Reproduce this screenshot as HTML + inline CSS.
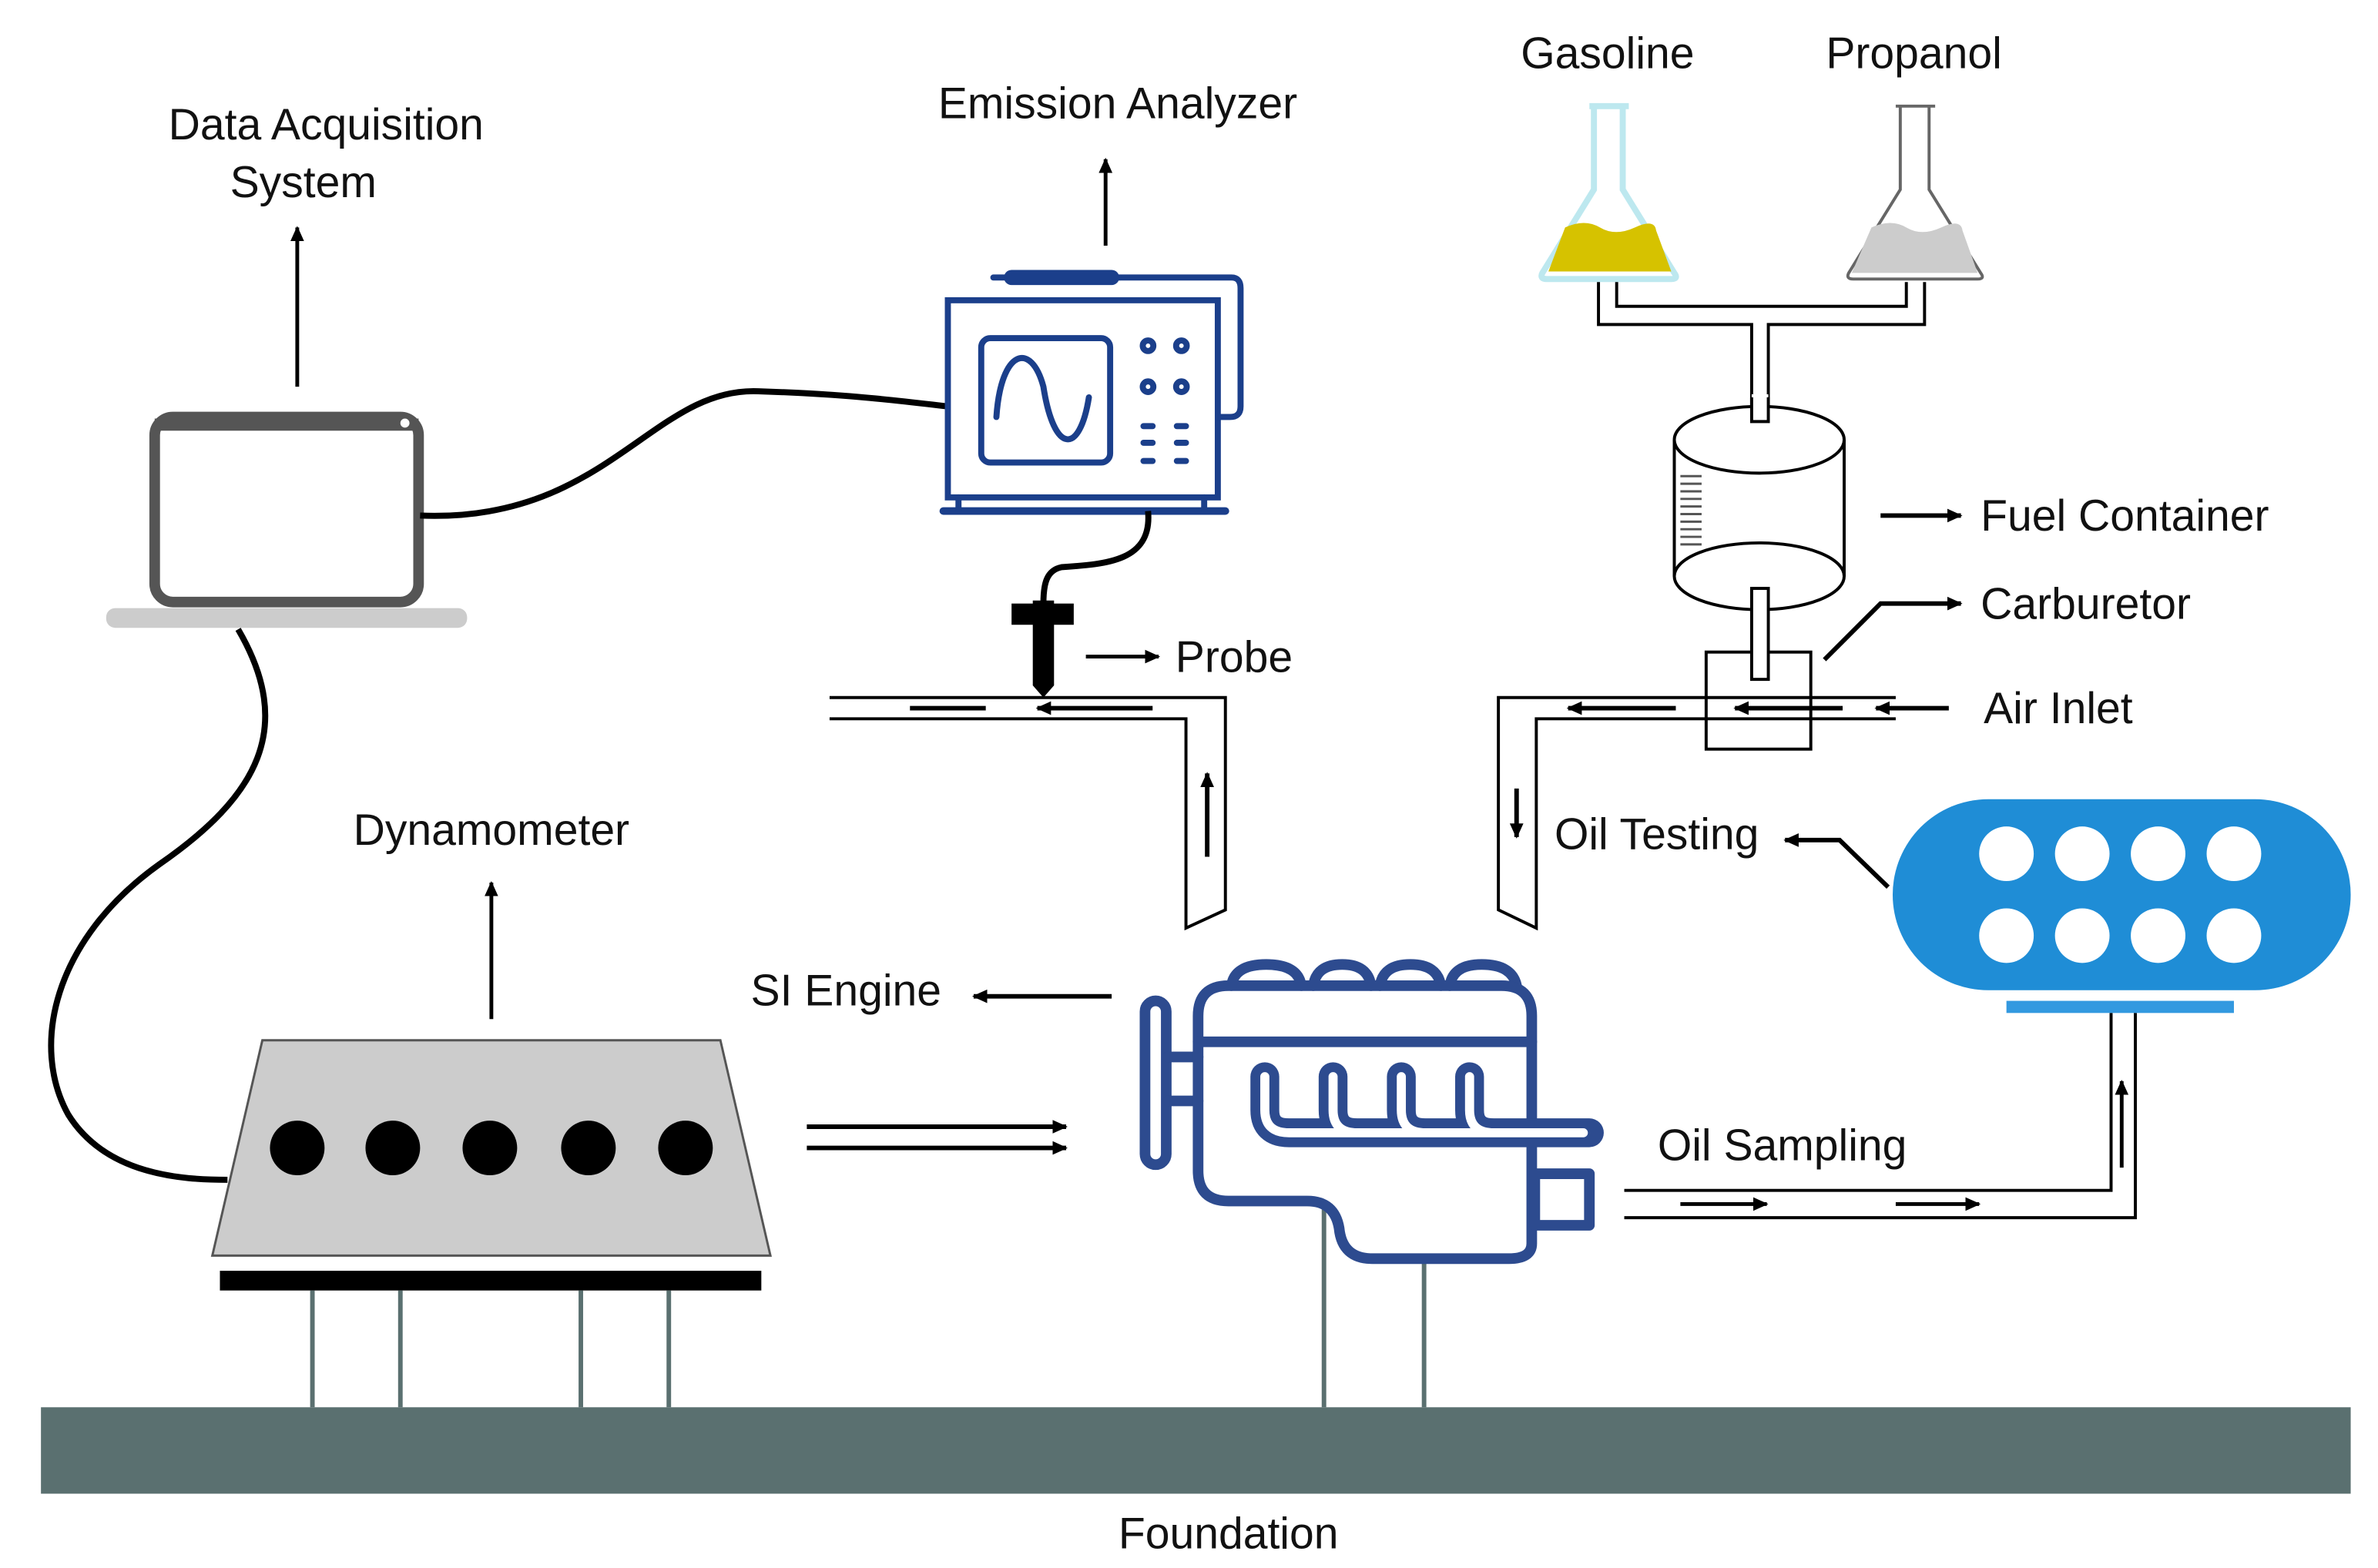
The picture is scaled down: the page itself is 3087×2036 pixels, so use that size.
<!DOCTYPE html>
<html><head><meta charset="utf-8"><style>
html,body{margin:0;padding:0;background:#fff;}
svg{display:block;}
text{font-family:"Liberation Sans",sans-serif;font-size:29px;fill:#111;}
</style></head><body>
<svg width="3087" height="2036" viewBox="0 0 1568 1034" preserveAspectRatio="none" xmlns="http://www.w3.org/2000/svg">
<defs>
<marker id="ah" markerWidth="12" markerHeight="12" refX="9" refY="6" orient="auto" markerUnits="userSpaceOnUse"><path d="M0,1.5 L10,6 L0,10.5 Z" fill="#000"/></marker>
</defs>
<rect width="1568" height="1034" fill="#fff"/>
<!-- Foundation -->
<rect x="27" y="928" width="1523" height="57" fill="#5a7070"/>
<text x="810" y="1021" text-anchor="middle">Foundation</text>

<!-- Laptop -->
<rect x="102" y="275" width="174" height="122" rx="12" fill="#fff" stroke="#555" stroke-width="7"/>
<line x1="102" y1="280" x2="276" y2="280" stroke="#555" stroke-width="8"/>
<circle cx="267" cy="279" r="3" fill="#fff"/>
<rect x="70" y="401" width="238" height="13" rx="6" fill="#ccc"/>
<line x1="196" y1="255" x2="196" y2="150" stroke="#000" stroke-width="2.5" marker-end="url(#ah)"/>
<text x="215" y="92" text-anchor="middle">Data Acquisition</text>
<text x="200" y="130" text-anchor="middle">System</text>

<!-- cables -->
<path d="M277,340 C400,345 430,255 500,258 C560,260 590,264 625,268" fill="none" stroke="#000" stroke-width="4"/>
<path d="M157,415 C195,480 170,525 105,570 C35,620 20,690 45,735 C70,775 120,778 150,778" fill="none" stroke="#000" stroke-width="4"/>

<!-- Emission analyzer -->
<g stroke="#1b3f8b" fill="none" stroke-width="4" stroke-linecap="round">
<rect x="625" y="198" width="178" height="130"/>
<rect x="647" y="223" width="85" height="82" rx="6"/>
<path d="M657,275 C660,230 680,225 688,255 C695,300 712,300 718,262"/>
<circle cx="757" cy="228" r="3.5"/><circle cx="779" cy="228" r="3.5"/>
<circle cx="757" cy="255" r="3.5"/><circle cx="779" cy="255" r="3.5"/>
<line x1="754" y1="281" x2="760" y2="281"/><line x1="776" y1="281" x2="782" y2="281"/>
<line x1="754" y1="292" x2="760" y2="292"/><line x1="776" y1="292" x2="782" y2="292"/>
<line x1="754" y1="304" x2="760" y2="304"/><line x1="776" y1="304" x2="782" y2="304"/>
<path d="M738,183 H812 Q818,183 818,190 V268 Q818,275 811,275 H803"/>
<line x1="655" y1="183" x2="738" y2="183"/>
<line x1="622" y1="337" x2="808" y2="337" stroke-width="5"/>
<line x1="632" y1="328" x2="632" y2="337"/><line x1="794" y1="328" x2="794" y2="337"/>
</g>
<line x1="667" y1="183" x2="733" y2="183" stroke="#1b3f8b" stroke-width="10" stroke-linecap="round"/>
<line x1="729" y1="162" x2="729" y2="105" stroke="#000" stroke-width="2.5" marker-end="url(#ah)"/>
<text x="737" y="78" text-anchor="middle">Emission Analyzer</text>

<!-- probe -->
<path d="M757,337 C760,370 730,372 700,374 C690,376 688,385 688,398" fill="none" stroke="#000" stroke-width="4"/>
<rect x="667" y="398" width="41" height="14" fill="#000"/>
<path d="M681,396 H695 V452 L688,460 L681,452 Z" fill="#000"/>
<line x1="716" y1="433" x2="764" y2="433" stroke="#000" stroke-width="2.5" marker-end="url(#ah)"/>
<text x="775" y="443">Probe</text>

<!-- exhaust pipe -->
<path d="M547,460 H808 V600 L782,612 V474 H547" fill="none" stroke="#000" stroke-width="2"/>
<line x1="600" y1="467" x2="650" y2="467" stroke="#000" stroke-width="3"/>
<line x1="760" y1="467" x2="684" y2="467" stroke="#000" stroke-width="3" marker-end="url(#ah)"/>
<line x1="796" y1="565" x2="796" y2="510" stroke="#000" stroke-width="3" marker-end="url(#ah)"/>

<!-- flasks -->
<text x="1060" y="45" text-anchor="middle">Gasoline</text>
<text x="1262" y="45" text-anchor="middle">Propanol</text>
<path d="M1048,70 H1074 M1051,71 V125 L1017,180 Q1015,184 1020,184 H1102 Q1107,184 1104,180 L1070,125 V71" fill="#fff" stroke="#bde8ef" stroke-width="4"/>
<path d="M1032,150 Q1045,144 1055,150 T1078,150 T1092,152 L1102,179 H1021 Z" fill="#d6c200"/>
<path d="M1250,70 H1276 M1253,71 V125 L1219,180 Q1217,184 1222,184 H1304 Q1309,184 1306,180 L1272,125 V71" fill="#fff" stroke="#666" stroke-width="2"/>
<path d="M1234,150 Q1247,144 1257,150 T1280,150 T1294,152 L1304,180 H1221 Z" fill="#ccc"/>

<!-- fuel tubes -->
<g stroke="#000" stroke-width="2" fill="none">
<path d="M1054,186 V214 H1155 V268"/>
<path d="M1166,268 V214 H1269 V186"/>
<path d="M1066,186 V202 H1257 V186"/>
<ellipse cx="1160" cy="290" rx="56" ry="22" fill="#fff"/>
<path d="M1104,290 V380 M1216,290 V380"/>
<ellipse cx="1160" cy="380" rx="56" ry="22"/>
<rect x="1155" y="260" width="11" height="18" fill="#fff" stroke="none"/>
<path d="M1155,262 V278 H1166 V262"/>
<rect x="1125" y="430" width="69" height="64" fill="none"/>
<rect x="1155" y="388" width="11" height="60" fill="#fff"/>
</g>
<g stroke="#555" stroke-width="1.5">
<line x1="1108" y1="314" x2="1122" y2="314"/><line x1="1108" y1="319" x2="1122" y2="319"/>
<line x1="1108" y1="324" x2="1122" y2="324"/><line x1="1108" y1="329" x2="1122" y2="329"/>
<line x1="1108" y1="334" x2="1122" y2="334"/><line x1="1108" y1="339" x2="1122" y2="339"/>
<line x1="1108" y1="344" x2="1122" y2="344"/><line x1="1108" y1="349" x2="1122" y2="349"/>
<line x1="1108" y1="354" x2="1122" y2="354"/><line x1="1108" y1="359" x2="1122" y2="359"/>
</g>
<line x1="1240" y1="340" x2="1293" y2="340" stroke="#000" stroke-width="3" marker-end="url(#ah)"/>
<text x="1306" y="350">Fuel Container</text>
<path d="M1203,435 L1240,398 H1293" fill="none" stroke="#000" stroke-width="3" marker-end="url(#ah)"/>
<text x="1306" y="408">Carburetor</text>

<!-- intake pipe -->
<path d="M1250,460 H988 V600 L1013,612 V474 H1250" fill="none" stroke="#000" stroke-width="2"/>
<line x1="1105" y1="467" x2="1034" y2="467" stroke="#000" stroke-width="3" marker-end="url(#ah)"/>
<line x1="1215" y1="467" x2="1144" y2="467" stroke="#000" stroke-width="3" marker-end="url(#ah)"/>
<line x1="1285" y1="467" x2="1237" y2="467" stroke="#000" stroke-width="3" marker-end="url(#ah)"/>
<text x="1308" y="477">Air Inlet</text>
<line x1="1000" y1="520" x2="1000" y2="552" stroke="#000" stroke-width="3" marker-end="url(#ah)"/>

<!-- oil testing -->
<rect x="1248" y="527" width="302" height="126" rx="63" fill="#1f8dd6"/>
<g fill="#fff">
<circle cx="1323" cy="563" r="18"/><circle cx="1373" cy="563" r="18"/><circle cx="1423" cy="563" r="18"/><circle cx="1473" cy="563" r="18"/>
<circle cx="1323" cy="617" r="18"/><circle cx="1373" cy="617" r="18"/><circle cx="1423" cy="617" r="18"/><circle cx="1473" cy="617" r="18"/>
</g>
<rect x="1323" y="660" width="150" height="8" fill="#3399e0"/>
<path d="M1245,585 L1213,554 H1177" fill="none" stroke="#000" stroke-width="3" marker-end="url(#ah)"/>
<text x="1025" y="560">Oil Testing</text>

<!-- oil sampling -->
<path d="M1071,785 H1392 V668 M1408,668 V803 H1071" fill="none" stroke="#000" stroke-width="2"/>
<line x1="1108" y1="794" x2="1165" y2="794" stroke="#000" stroke-width="2.5" marker-end="url(#ah)"/>
<line x1="1250" y1="794" x2="1305" y2="794" stroke="#000" stroke-width="2.5" marker-end="url(#ah)"/>
<line x1="1399" y1="770" x2="1399" y2="713" stroke="#000" stroke-width="2.5" marker-end="url(#ah)"/>
<text x="1093" y="765">Oil Sampling</text>

<!-- engine legs -->
<line x1="873" y1="795" x2="873" y2="928" stroke="#5a7070" stroke-width="3"/>
<line x1="939" y1="828" x2="939" y2="928" stroke="#5a7070" stroke-width="3"/>

<!-- engine -->
<g stroke="#2d4b8f" stroke-width="7" fill="none" stroke-linejoin="round" stroke-linecap="round">
<rect x="755" y="660" width="14" height="108" rx="7"/>
<line x1="770" y1="697" x2="790" y2="697"/><line x1="770" y1="726" x2="790" y2="726"/>
<path d="M812,650 Q814,636 835,636 Q856,636 858,650 M866,650 Q868,636 885,636 Q902,636 904,650 M910,650 Q912,636 930,636 Q948,636 950,650 M956,650 Q958,636 977,636 Q997,636 1000,650"/>
<path d="M810,650 H990 Q1010,650 1010,670 V820 Q1010,830 995,830 H905 Q885,830 883,810 Q880,792 862,792 H810 Q790,792 790,772 V670 Q790,650 810,650 Z"/>
<line x1="790" y1="687" x2="1010" y2="687"/>
<rect x="1012" y="774" width="36" height="34"/>
</g>
<g fill="none" stroke-linejoin="round">
<path d="M834,710 V732 Q834,747 850,747 H1048 M879,710 V732 Q879,747 895,747 M924,710 V732 Q924,747 940,747 M969,710 V732 Q969,747 985,747" stroke="#2d4b8f" stroke-width="19" stroke-linecap="round"/>
<path d="M834,710 V732 Q834,747 850,747 H1044 M879,710 V732 Q879,747 895,747 M924,710 V732 Q924,747 940,747 M969,710 V732 Q969,747 985,747" stroke="#fff" stroke-width="6" stroke-linecap="round"/>
</g>
<line x1="733" y1="657" x2="642" y2="657" stroke="#000" stroke-width="3" marker-end="url(#ah)"/>
<text x="495" y="663">SI Engine</text>

<!-- dynamometer -->
<polygon points="173,686 475,686 508,828 140,828" fill="#ccc" stroke="#555" stroke-width="1.5"/>
<g fill="#000"><circle cx="196" cy="757" r="18"/><circle cx="259" cy="757" r="18"/><circle cx="323" cy="757" r="18"/><circle cx="388" cy="757" r="18"/><circle cx="452" cy="757" r="18"/></g>
<rect x="145" y="838" width="357" height="13" fill="#000"/>
<g stroke="#5a7070" stroke-width="3"><line x1="206" y1="851" x2="206" y2="928"/><line x1="264" y1="851" x2="264" y2="928"/><line x1="383" y1="851" x2="383" y2="928"/><line x1="441" y1="851" x2="441" y2="928"/></g>
<line x1="324" y1="672" x2="324" y2="582" stroke="#000" stroke-width="2.5" marker-end="url(#ah)"/>
<text x="324" y="557" text-anchor="middle">Dynamometer</text>
<line x1="532" y1="743" x2="703" y2="743" stroke="#000" stroke-width="3" marker-end="url(#ah)"/>
<line x1="532" y1="757" x2="703" y2="757" stroke="#000" stroke-width="3" marker-end="url(#ah)"/>
</svg>
</body></html>
